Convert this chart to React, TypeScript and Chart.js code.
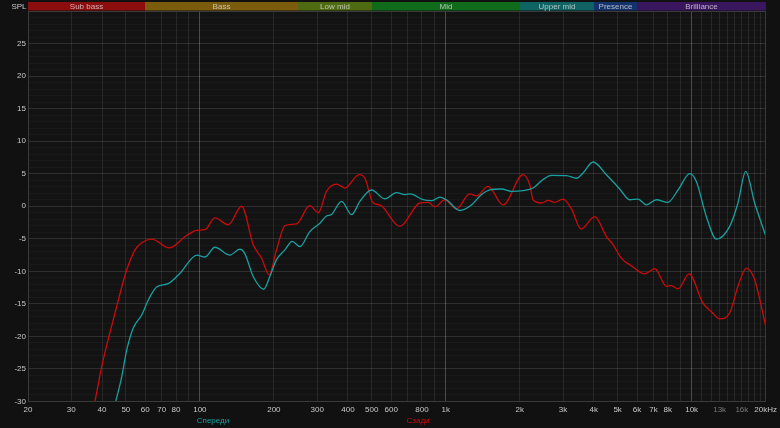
import React, { useEffect, useRef } from "react";
import { Chart, registerables } from "chart.js";
Chart.register(...registerables);

// ---- data ----
const frontFreq = [43, 45.6, 48.1, 50.4, 53.6, 58, 61.7, 66.7, 74.3, 83, 97.2, 104.9, 115.1, 132.5, 145.5, 152, 164.8, 182, 192.5, 205, 221.7, 237.4, 255.2, 280, 307.8, 327.5, 342, 377, 414, 447.4, 499, 565, 630.6, 684, 717, 809, 875, 946, 1007, 1141, 1272, 1397, 1510, 1685, 1850, 2062, 2265, 2487, 2690, 3098, 3401, 3616, 3973, 4502, 5099, 5600, 6055, 6545, 7190, 8000, 8803, 9825, 10450, 11480, 12610, 14280, 15430, 16590, 18040, 20000];
const frontSpl = [-33.5, -29.8, -26.2, -22.1, -18.7, -16.7, -14.4, -12.4, -11.9, -10.3, -7.5, -7.8, -6.3, -7.5, -6.6, -7.2, -10.8, -12.75, -10.8, -8.2, -6.7, -5.4, -6.2, -3.9, -2.6, -1.5, -1.3, 0.75, -1.3, 0.75, 2.5, 1.15, 2.1, 1.8, 1.9, 1.0, 0.85, 1.4, 1.0, -0.65, 0.2, 1.8, 2.5, 2.65, 2.3, 2.4, 2.8, 4.1, 4.75, 4.7, 4.3, 5.1, 6.8, 4.85, 2.65, 1.0, 1.1, 0.2, 1.0, 0.6, 2.5, 5.0, 3.8, -1.6, -5.05, -3.1, 0.5, 5.35, 0.5, -4.5];

const rearFreq = [35, 37.5, 39.9, 44.4, 50.4, 54.5, 58, 63.7, 75.1, 88.3, 97.2, 104.9, 115.1, 130.5, 147.8, 164.8, 178.2, 191.4, 205, 221.7, 247.3, 280, 303, 327.5, 359.7, 388.7, 444.5, 469, 506.7, 539.6, 650.5, 784.5, 847.6, 902.7, 991, 1106, 1252, 1334, 1486, 1711, 2062, 2196, 2265, 2450, 2614, 2765, 3000, 3245, 3550, 4036, 4502, 4788, 5182, 5688, 6442, 7080, 7895, 8270, 8803, 9756, 11120, 12030, 13010, 14280, 15430, 16690, 18040, 20000];
const rearSpl = [-34.5, -29.8, -24.6, -17.5, -9.8, -6.7, -5.6, -5.05, -6.4, -4.5, -3.7, -3.6, -1.8, -2.85, 0.0, -5.9, -8.0, -10.5, -6.7, -3.0, -2.7, 0.1, -1.0, 2.3, 3.4, 2.8, 4.85, 4.3, 0.5, 0.2, -3.1, 0.5, 0.6, -0.1, 1.0, -0.4, 1.9, 1.6, 3.05, 0.2, 4.85, 3.3, 1.0, 0.5, 0.9, 0.6, 1.1, -0.4, -3.5, -1.6, -4.65, -5.9, -8.0, -9.15, -10.4, -9.6, -12.3, -12.2, -12.7, -10.4, -14.9, -16.2, -17.3, -16.4, -12.3, -9.5, -11.3, -18.4];

const seriesNames = ["Спереди", "Сзади"];
const seriesColors = ["#19a0a0", "#cc0a0a"];

const xGridFreqs = [20, 30, 40, 50, 60, 70, 80, 90, 100, 200, 300, 400, 500, 600, 700, 800, 900, 1000, 2000, 3000, 4000, 5000, 6000, 7000, 8000, 9000, 10000, 11000, 12000, 13000, 14000, 15000, 16000, 17000, 18000, 19000, 20000];
const xLabelFreqs = [20, 30, 40, 50, 60, 70, 80, 100, 200, 300, 400, 500, 600, 800, 1000, 2000, 3000, 4000, 5000, 6000, 7000, 8000, 10000, 13000, 16000, 20000];
const xLabelTexts = ["20", "30", "40", "50", "60", "70", "80", "100", "200", "300", "400", "500", "600", "800", "1k", "2k", "3k", "4k", "5k", "6k", "7k", "8k", "10k", "13k", "16k", "20kHz"];
const dimLabelFreqs = [13000, 16000];
const majorFreqs = [100, 1000, 10000];

const yMin = -30;
const yMax = 30;
const yMajorStep = 5;

const bandNames = ["Sub bass", "Bass", "Low mid", "Mid", "Upper mid", "Presence", "Brilliance"];
const bandEdges = [20, 60, 250, 500, 2000, 4000, 6000, 20000];
const bandColors = ["#8c0d0d", "#7b5c0c", "#4f6b12", "#106c1a", "#106363", "#14336c", "#3a165e"];

const FONT = '"Liberation Sans", Arial, sans-serif';

const decorPlugin = {
  id: "decor",
  beforeDraw(chart: any) {
    const { ctx, width, height, chartArea } = chart;
    ctx.save();
    ctx.fillStyle = "#111111";
    ctx.fillRect(0, 0, width, height);
    ctx.fillStyle = "#131313";
    ctx.fillRect(chartArea.left, chartArea.top, chartArea.right - chartArea.left, chartArea.bottom - chartArea.top);
    ctx.restore();
  },
  afterDraw(chart: any) {
    const { ctx, chartArea } = chart;
    const xs = chart.scales.x;
    ctx.save();
    // frequency bands
    ctx.font = "8px " + FONT;
    ctx.textAlign = "center";
    ctx.textBaseline = "middle";
    for (let i = 0; i < bandNames.length; i++) {
      const x1 = Math.round(xs.getPixelForValue(bandEdges[i]));
      const x2 = Math.round(xs.getPixelForValue(bandEdges[i + 1]));
      ctx.fillStyle = bandColors[i];
      ctx.fillRect(x1, 2, x2 - x1, 8.5);
      ctx.fillStyle = "rgba(225,225,225,0.75)";
      ctx.fillText(bandNames[i], (x1 + x2) / 2, 6.6);
    }
    // plot frame
    ctx.strokeStyle = "#3a3a3a";
    ctx.lineWidth = 1;
    ctx.strokeRect(Math.round(chartArea.left) + 0.5, Math.round(chartArea.top) + 0.5,
      Math.round(chartArea.right - chartArea.left) - 1, Math.round(chartArea.bottom - chartArea.top) - 1);
    // axis title
    ctx.fillStyle = "#c8c8c8";
    ctx.textAlign = "right";
    ctx.fillText("SPL", 26.5, 7);
    // legend
    ctx.textAlign = "center";
    ctx.font = "8px " + FONT;
    const legendX = [213, 418];
    for (let i = 0; i < seriesNames.length; i++) {
      ctx.fillStyle = seriesColors[i];
      ctx.fillText(seriesNames[i], legendX[i], 421);
    }
    ctx.restore();
  },
};

export default function App() {
  const ref = useRef<HTMLCanvasElement | null>(null);
  useEffect(() => {
    if (!ref.current) return;
    const mk = (f: number[], s: number[]) => f.map((x, i) => ({ x, y: s[i] }));
    const chart = new Chart(ref.current, {
      type: "line",
      data: {
        datasets: [
          {
            label: seriesNames[0],
            data: mk(frontFreq, frontSpl),
            borderColor: seriesColors[0],
            borderWidth: 1.3,
            pointRadius: 0,
            cubicInterpolationMode: "monotone",
            fill: false,
          },
          {
            label: seriesNames[1],
            data: mk(rearFreq, rearSpl),
            borderColor: seriesColors[1],
            borderWidth: 1.3,
            pointRadius: 0,
            cubicInterpolationMode: "monotone",
            fill: false,
          },
        ],
      },
      options: {
        animation: false,
        responsive: false,
        maintainAspectRatio: false,
        layout: { padding: { top: 11, right: 14, left: 0, bottom: 0 } },
        plugins: { legend: { display: false }, tooltip: { enabled: false } },
        scales: {
          x: {
            type: "logarithmic",
            min: 20,
            max: 20000,
            afterBuildTicks: (s: any) => {
              s.ticks = xGridFreqs.map((v) => ({ value: v }));
            },
            afterFit: (s: any) => {
              s.height = 26.5;
            },
            grid: {
              color: (c: any) => (c.tick && majorFreqs.includes(c.tick.value) ? "rgba(255,255,255,0.24)" : "rgba(255,255,255,0.085)"),
              drawTicks: false,
              lineWidth: 1,
            },
            border: { color: "#3a3a3a" },
            ticks: {
              autoSkip: false,
              maxRotation: 0,
              minRotation: 0,
              padding: 3,
              font: { family: FONT, size: 8 },
              color: (c: any) => (c.tick && dimLabelFreqs.includes(c.tick.value) ? "#7a7a7a" : "#c8c8c8"),
              callback: (v: any) => {
                const i = xLabelFreqs.indexOf(Number(v));
                return i >= 0 ? xLabelTexts[i] : "";
              },
            },
          },
          y: {
            type: "linear",
            min: yMin,
            max: yMax,
            afterBuildTicks: (s: any) => {
              const t = [];
              for (let v = yMin; v <= yMax; v++) t.push({ value: v });
              s.ticks = t;
            },
            afterFit: (s: any) => {
              s.width = 28;
            },
            grid: {
              color: (c: any) => (c.tick && c.tick.value % yMajorStep === 0 ? "rgba(255,255,255,0.12)" : "rgba(255,255,255,0.028)"),
              drawTicks: false,
              lineWidth: 1,
            },
            border: { color: "#3a3a3a" },
            ticks: {
              autoSkip: false,
              padding: 2,
              font: { family: FONT, size: 8 },
              color: "#c8c8c8",
              callback: (v: any) => {
                const n = Number(v);
                return n % yMajorStep === 0 && n !== yMax ? String(n) : "";
              },
            },
          },
        },
      },
      plugins: [decorPlugin],
    } as any);
    return () => chart.destroy();
  }, []);
  return (
    <div style={{ position: "absolute", left: 0, top: 0, width: 780, height: 428, background: "#111111" }}>
      <canvas ref={ref} width={780} height={428} style={{ display: "block", width: 780, height: 428 }} />
    </div>
  );
}
